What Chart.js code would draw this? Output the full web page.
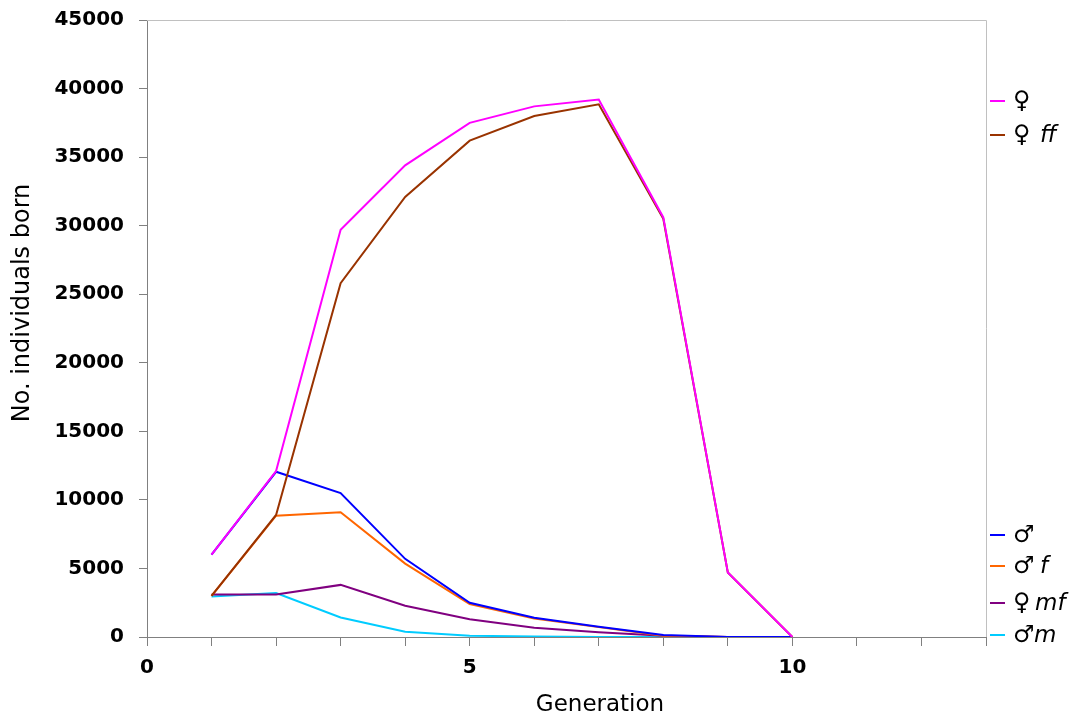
<!DOCTYPE html>
<html>
<head>
<meta charset="utf-8">
<script src="https://cdn.jsdelivr.net/npm/chart.js@4/dist/chart.umd.min.js"></script>
<style>
html,body{margin:0;padding:0;background:#fff;}
#wrap{width:1072px;height:718px;position:relative;}
</style>
</head>
<body>
<div id="wrap"><canvas id="c" width="1072" height="718"></canvas></div>
<script>
// ---- data ----
const generations = [1, 2, 3, 4, 5, 6, 7, 8, 9, 10];
const female   = [6000, 12100, 29700, 34400, 37500, 38700, 39200, 30600, 4700, 0];
const femaleFF = [3000, 8900, 25800, 32100, 36200, 38000, 38850, 30500, 4700, 0];
const male     = [6000, 12050, 10500, 5700, 2500, 1400, 750, 150, 0, 0];
const maleF    = [3000, 8850, 9100, 5350, 2400, 1350, 720, 100, 0, 0];
const femaleMF = [3100, 3100, 3800, 2280, 1290, 680, 350, 100, 0, 0];
const maleM    = [2950, 3200, 1420, 380, 100, 30, 0, 0, 0, 0];
const xTickLabels = [0, 5, 10];
const seriesSymbols = ['\u2640', '\u2640', '\u2642', '\u2642', '\u2640', '\u2642'];
const seriesSuffix  = ['', 'ff', '', 'f', 'mf', 'm'];

// ---- styles ----
const colors = ['#FF00FF', '#993300', '#0000FF', '#FF6600', '#800080', '#00CCFF'];
const legendY = [101, 135, 535, 566, 603, 635];
const suffixX = [0, 1040, 0, 1040, 1035, 1034];
const FONT = '"DejaVu Sans", Verdana, sans-serif';

const seriesList = [female, femaleFF, male, maleF, femaleMF, maleM];
const datasets = seriesList.map((arr, i) => ({
  label: seriesSymbols[i] + seriesSuffix[i],
  data: arr.map((v, j) => ({x: generations[j], y: v})),
  borderColor: colors[i],
  backgroundColor: colors[i],
  borderWidth: 2,
  pointRadius: 0,
  tension: 0,
  fill: false
}));

const decor = {
  id: 'decor',
  afterDraw(chart) {
    const ctx = chart.ctx;
    const a = chart.chartArea;
    ctx.save();
    // frame top/right
    ctx.strokeStyle = '#c0c0c0';
    ctx.lineWidth = 1;
    ctx.beginPath();
    ctx.moveTo(a.left, a.top + 0.5);
    ctx.lineTo(a.right + 0.5, a.top + 0.5);
    ctx.lineTo(a.right + 0.5, a.bottom);
    ctx.stroke();
    // axis titles
    ctx.fillStyle = '#000';
    ctx.textAlign = 'center';
    ctx.textBaseline = 'middle';
    ctx.font = '23px ' + FONT;
    ctx.fillText('Generation', 600, 705);
    ctx.save();
    ctx.translate(23, 303);
    ctx.rotate(-Math.PI / 2);
    ctx.font = '24px ' + FONT;
    ctx.fillText('No. individuals born', 0, 0);
    ctx.restore();
    // legend
    for (let i = 0; i < seriesList.length; i++) {
      const y = legendY[i];
      ctx.strokeStyle = colors[i];
      ctx.lineWidth = 2;
      ctx.beginPath();
      ctx.moveTo(990, y);
      ctx.lineTo(1005, y);
      ctx.stroke();
      ctx.fillStyle = '#000';
      ctx.textAlign = 'left';
      ctx.textBaseline = 'middle';
      ctx.font = '24px ' + FONT;
      ctx.fillText(seriesSymbols[i], 1013, y + 1);
      if (seriesSuffix[i]) {
        ctx.font = 'italic 23px ' + FONT;
        ctx.fillText(seriesSuffix[i], suffixX[i], y + 1);
      }
    }
    ctx.restore();
  }
};

new Chart(document.getElementById('c'), {
  type: 'line',
  data: {datasets},
  options: {
    responsive: false,
    animation: false,
    devicePixelRatio: 1,
    layout: {padding: {left: 0, top: 20, right: 86, bottom: 0}},
    plugins: {legend: {display: false}, tooltip: {enabled: false}},
    scales: {
      x: {
        type: 'linear',
        min: 0, max: 13,
        afterFit: s => { s.height = 81; },
        border: {display: true, color: '#808080', width: 1},
        grid: {display: true, drawOnChartArea: false, drawTicks: true, tickLength: 9, color: '#808080'},
        ticks: {
          stepSize: 1,
          autoSkip: false,
          maxRotation: 0,
          padding: 10,
          color: '#000',
          font: {family: FONT, size: 20, weight: 'bold'},
          callback: v => xTickLabels.includes(v) ? String(v) : ''
        }
      },
      y: {
        min: 0, max: 45000,
        afterFit: s => { s.width = 147; s.paddingTop = 0; s.paddingBottom = 0; },
        border: {display: true, color: '#808080', width: 1},
        grid: {display: true, drawOnChartArea: false, drawTicks: true, tickLength: 8, color: '#808080'},
        ticks: {
          stepSize: 5000,
          padding: 15,
          color: '#000',
          font: {family: FONT, size: 20, weight: 'bold'},
          callback: v => String(v)
        }
      }
    }
  },
  plugins: [decor]
});
</script>
</body>
</html>
